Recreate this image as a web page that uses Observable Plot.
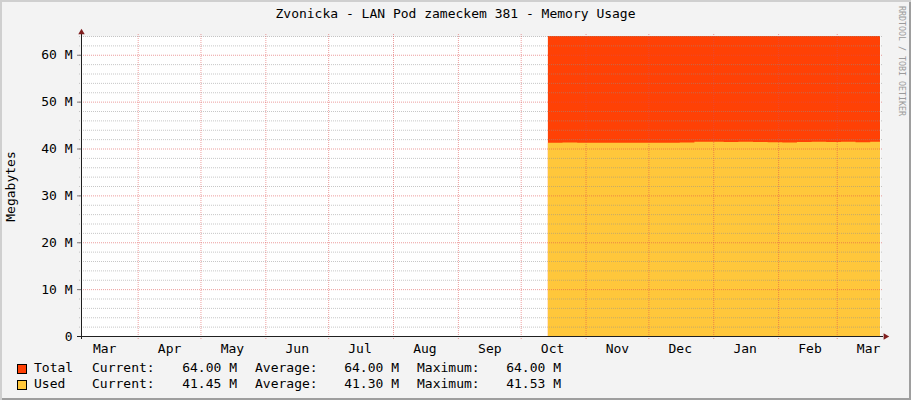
<!DOCTYPE html>
<html><head><meta charset="utf-8">
<script src="https://cdn.jsdelivr.net/npm/d3@7"></script>
<script src="https://cdn.jsdelivr.net/npm/@observablehq/plot@0.6"></script>
<style>
html,body{margin:0;padding:0;background:#fff}
#chart{position:relative;width:911px;height:400px;background:#F3F3F3;box-shadow:inset 2px 2px 0 #CFCFCF, inset -2px -2px 0 #9E9E9E;font-family:"DejaVu Sans Mono",monospace;color:#000;overflow:hidden}
#title{height:28px;line-height:28px;text-align:center;font-size:13px}
#plot svg{display:block}
#wm{position:absolute;left:897px;top:6px;writing-mode:vertical-rl;font-size:8.3px;color:#9a9a9a;letter-spacing:0}
.row{position:absolute;left:0;height:16px;line-height:16px;font-size:13px;white-space:pre}
.row span{position:absolute;top:0}
.sw{position:absolute;left:17px;width:8px;height:8px;border:1px solid #000}
.val{text-align:right;width:80px}
</style>
</head><body>
<div id="chart">
  <div id="title"></div>
  <div id="plot"></div>
  <div id="wm">RRDTOOL / TOBI OETIKER</div>
  <div id="legend"></div>
</div>
<script>
// ---- data ----
const titleText = "Zvonicka - LAN Pod zameckem 381 - Memory Usage";
const yAxisLabel = "Megabytes";
const xStart = "2010-03-04T22:00:00Z";
const xEnd = "2011-03-21T16:30:00Z";
const sampleDates = ["2010-10-14","2010-10-21","2010-10-28","2010-11-04","2010-11-11","2010-11-18","2010-11-25","2010-12-02","2010-12-09","2010-12-16","2010-12-23","2010-12-30","2011-01-06","2011-01-13","2011-01-20","2011-01-27","2011-02-03","2011-02-10","2011-02-17","2011-02-24","2011-03-03","2011-03-10","2011-03-17","2011-03-21T16:30:00Z"];
const totalMB = [64,64,64,64,64,64,64,64,64,64,64,64,64,64,64,64,64,64,64,64,64,64,64,64];
const usedMB = [41.25,41.3,41.25,41.25,41.25,41.25,41.25,41.25,41.25,41.3,41.45,41.45,41.4,41.45,41.4,41.35,41.3,41.4,41.45,41.4,41.45,41.35,41.45,41.45];
const monthStarts = ["2010-04-01","2010-05-01","2010-06-01","2010-07-01","2010-08-01","2010-09-01","2010-10-01","2010-11-01","2010-12-01","2011-01-01","2011-02-01","2011-03-01"];
const monthLabelDates = ["2010-03-16","2010-04-16","2010-05-16","2010-06-16","2010-07-16","2010-08-16","2010-09-16","2010-10-16","2010-11-16","2010-12-16","2011-01-16","2011-02-16","2011-03-16"];
const monthLabels = ["Mar","Apr","May","Jun","Jul","Aug","Sep","Oct","Nov","Dec","Jan","Feb","Mar"];
const yMajorTicks = [0,10,20,30,40,50,60];
const yTickLabels = ["0","10 M","20 M","30 M","40 M","50 M","60 M"];
const yMinorTicks = [2,4,6,8,12,14,16,18,22,24,26,28,32,34,36,38,42,44,46,48,52,54,56,58,62,64];
const legendNames = ["Total","Used"];
const legendColors = ["#FF4105","#FFC73B"];
const legendCurrent = ["64.00 M","41.45 M"];
const legendAverage = ["64.00 M","41.30 M"];
const legendMaximum = ["64.00 M","41.53 M"];

// ---- build ----
const data = sampleDates.map((d,i)=>({date:new Date(d), total:totalMB[i], used:usedMB[i]}));
const start = new Date(xStart), end = new Date(xEnd);
const mStarts = monthStarts.map(d=>new Date(d));
const mLabels = monthLabelDates.map(d=>new Date(d));
const majorColor = "rgba(222,79,79,0.55)";
const minorColor = "rgba(143,143,143,0.5)";

document.getElementById("title").textContent = titleText;

const chart = Plot.plot({
  width: 911, height: 330,
  marginLeft: 81, marginRight: 31, marginTop: 8, marginBottom: 22,
  style: {background: "transparent", fontFamily: "'DejaVu Sans Mono', monospace", fontSize: "13px", color: "#000", overflow: "visible"},
  x: {type: "utc", domain: [start, end]},
  y: {domain: [0, 64]},
  marks: [
    Plot.frame({fill: "#fff", stroke: null}),
    Plot.areaY(data, {x: "date", y: "total", fill: legendColors[0], curve: "step-after"}),
    Plot.areaY(data, {x: "date", y: "used", fill: legendColors[1], curve: "step-after"}),
    Plot.gridY(yMinorTicks, {stroke: minorColor, strokeOpacity: 1, strokeDasharray: "1,1", insetLeft: -2, insetRight: -2}),
    Plot.gridY(yMajorTicks.filter(d=>d>0), {stroke: majorColor, strokeOpacity: 1, strokeDasharray: "1,1", insetLeft: -2, insetRight: -2}),
    Plot.gridX(mStarts, {stroke: majorColor, strokeOpacity: 1, strokeDasharray: "1,1", insetTop: -2, insetBottom: -3}),
    Plot.axisY(yMajorTicks, {tickSize: 4, tickPadding: 5, stroke: "#777", fill: "#000",
      tickFormat: d => yTickLabels[yMajorTicks.indexOf(d)],
      label: yAxisLabel, labelAnchor: "center", labelArrow: "none", labelOffset: 76}),
    Plot.axisX(mLabels, {tickSize: 0, tickPadding: 7, fill: "#000", label: null,
      tickFormat: d => monthLabels[mLabels.findIndex(m=>+m===+d)]}),
    Plot.ruleX([start], {stroke: "#1F1F1F", insetBottom: -3, insetTop: -2}),
    Plot.ruleY([0], {stroke: "#1F1F1F", insetLeft: -4, insetRight: -3}),
    Plot.dot([start], {x: d=>d, y: ()=>64, symbol: "triangle", r: 2.4, fill: "#801F1F", stroke: null, dy: -4}),
    Plot.dot([end], {x: d=>d, y: ()=>0, symbol: "triangle", rotate: 90, r: 2.4, fill: "#801F1F", stroke: null, dx: 5})
  ]
});
document.getElementById("plot").appendChild(chart);

// legend
const leg = document.getElementById("legend");
const rowTops = [360, 376];
legendNames.forEach((name,i)=>{
  const row = document.createElement("div");
  row.className = "row";
  row.style.top = rowTops[i] + "px";
  row.style.width = "911px";
  row.innerHTML =
    `<div class="sw" style="top:4px;background:${legendColors[i]}"></div>` +
    `<span style="left:34px">${name}</span>` +
    `<span style="left:92px">Current:</span>` +
    `<span class="val" style="left:157px">${legendCurrent[i]}</span>` +
    `<span style="left:255px">Average:</span>` +
    `<span class="val" style="left:319px">${legendAverage[i]}</span>` +
    `<span style="left:417px">Maximum:</span>` +
    `<span class="val" style="left:481px">${legendMaximum[i]}</span>`;
  leg.appendChild(row);
});
</script>
</body></html>
